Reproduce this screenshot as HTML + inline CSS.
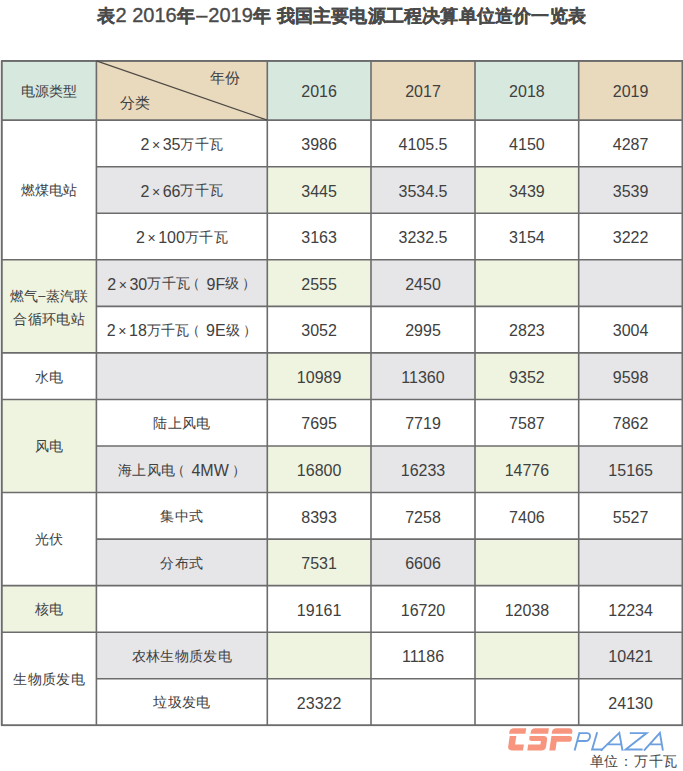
<!DOCTYPE html>
<html><head><meta charset="utf-8">
<style>
html,body{margin:0;padding:0;background:#fff;width:683px;height:771px;overflow:hidden;position:relative;}
body{font-family:"Liberation Sans",sans-serif;color:#404040;}
.t{position:absolute;width:300px;height:30px;line-height:30px;text-align:center;font-size:16px;white-space:nowrap;}
.c{font-size:14.4px;position:relative;top:-1.4px;letter-spacing:0.3px;}
.x{margin:0 2.6px;font-size:14px;}
.lp{margin-right:2px;position:relative;left:-4px;}
.rp{margin-left:2.8px;}
.d{position:relative;top:-2.5px;font-size:13px;}
.t2{position:absolute;font-size:14.6px;line-height:20px;white-space:nowrap;}
.title{position:absolute;left:97px;top:1.8px;font-size:20px;font-weight:normal;color:#4a4a4a;line-height:26px;white-space:nowrap;-webkit-text-stroke:0.35px #4a4a4a;}
.title b{font-size:18.3px;letter-spacing:0.5px;font-weight:bold;-webkit-text-stroke:0.25px #4a4a4a;}
.td{margin:0 1px;}
.tb{margin-left:5.4px;letter-spacing:0.19px !important;}
svg{position:absolute;left:0;top:0;}
.unit{position:absolute;left:589.5px;top:750px;font-size:14.4px;letter-spacing:0.75px;line-height:22px;color:#444;white-space:nowrap;}
</style></head><body>
<div class="title"><b>表</b>2 2016<b>年</b><span class="td">–</span>2019<b>年</b><b class="tb">我国主要电源工程决算单位造价一览表</b></div>
<svg width="683" height="771" viewBox="0 0 683 771">
<rect x="1.70" y="60.90" width="94.70" height="59.25" fill="#d7e8de"/><rect x="96.40" y="60.90" width="170.90" height="59.25" fill="#e9d9bd"/><rect x="267.30" y="60.90" width="103.70" height="59.25" fill="#d7e8de"/><rect x="371.00" y="60.90" width="104.00" height="59.25" fill="#e9d9bd"/><rect x="475.00" y="60.90" width="103.70" height="59.25" fill="#d7e8de"/><rect x="578.70" y="60.90" width="103.80" height="59.25" fill="#e9d9bd"/><rect x="96.40" y="120.15" width="170.90" height="46.55" fill="#ffffff"/><rect x="267.30" y="120.15" width="103.70" height="46.55" fill="#ffffff"/><rect x="371.00" y="120.15" width="104.00" height="46.55" fill="#ffffff"/><rect x="475.00" y="120.15" width="103.70" height="46.55" fill="#ffffff"/><rect x="578.70" y="120.15" width="103.80" height="46.55" fill="#ffffff"/><rect x="96.40" y="166.70" width="170.90" height="46.55" fill="#e6e5e8"/><rect x="267.30" y="166.70" width="103.70" height="46.55" fill="#eef4e0"/><rect x="371.00" y="166.70" width="104.00" height="46.55" fill="#e6e5e8"/><rect x="475.00" y="166.70" width="103.70" height="46.55" fill="#eef4e0"/><rect x="578.70" y="166.70" width="103.80" height="46.55" fill="#e6e5e8"/><rect x="96.40" y="213.25" width="170.90" height="46.55" fill="#ffffff"/><rect x="267.30" y="213.25" width="103.70" height="46.55" fill="#ffffff"/><rect x="371.00" y="213.25" width="104.00" height="46.55" fill="#ffffff"/><rect x="475.00" y="213.25" width="103.70" height="46.55" fill="#ffffff"/><rect x="578.70" y="213.25" width="103.80" height="46.55" fill="#ffffff"/><rect x="96.40" y="259.80" width="170.90" height="46.55" fill="#e6e5e8"/><rect x="267.30" y="259.80" width="103.70" height="46.55" fill="#eef4e0"/><rect x="371.00" y="259.80" width="104.00" height="46.55" fill="#e6e5e8"/><rect x="475.00" y="259.80" width="103.70" height="46.55" fill="#eef4e0"/><rect x="578.70" y="259.80" width="103.80" height="46.55" fill="#e6e5e8"/><rect x="96.40" y="306.35" width="170.90" height="46.55" fill="#ffffff"/><rect x="267.30" y="306.35" width="103.70" height="46.55" fill="#ffffff"/><rect x="371.00" y="306.35" width="104.00" height="46.55" fill="#ffffff"/><rect x="475.00" y="306.35" width="103.70" height="46.55" fill="#ffffff"/><rect x="578.70" y="306.35" width="103.80" height="46.55" fill="#ffffff"/><rect x="96.40" y="352.90" width="170.90" height="46.55" fill="#e6e5e8"/><rect x="267.30" y="352.90" width="103.70" height="46.55" fill="#eef4e0"/><rect x="371.00" y="352.90" width="104.00" height="46.55" fill="#e6e5e8"/><rect x="475.00" y="352.90" width="103.70" height="46.55" fill="#eef4e0"/><rect x="578.70" y="352.90" width="103.80" height="46.55" fill="#e6e5e8"/><rect x="96.40" y="399.45" width="170.90" height="46.55" fill="#ffffff"/><rect x="267.30" y="399.45" width="103.70" height="46.55" fill="#ffffff"/><rect x="371.00" y="399.45" width="104.00" height="46.55" fill="#ffffff"/><rect x="475.00" y="399.45" width="103.70" height="46.55" fill="#ffffff"/><rect x="578.70" y="399.45" width="103.80" height="46.55" fill="#ffffff"/><rect x="96.40" y="446.00" width="170.90" height="46.55" fill="#e6e5e8"/><rect x="267.30" y="446.00" width="103.70" height="46.55" fill="#eef4e0"/><rect x="371.00" y="446.00" width="104.00" height="46.55" fill="#e6e5e8"/><rect x="475.00" y="446.00" width="103.70" height="46.55" fill="#eef4e0"/><rect x="578.70" y="446.00" width="103.80" height="46.55" fill="#e6e5e8"/><rect x="96.40" y="492.55" width="170.90" height="46.55" fill="#ffffff"/><rect x="267.30" y="492.55" width="103.70" height="46.55" fill="#ffffff"/><rect x="371.00" y="492.55" width="104.00" height="46.55" fill="#ffffff"/><rect x="475.00" y="492.55" width="103.70" height="46.55" fill="#ffffff"/><rect x="578.70" y="492.55" width="103.80" height="46.55" fill="#ffffff"/><rect x="96.40" y="539.10" width="170.90" height="46.55" fill="#e6e5e8"/><rect x="267.30" y="539.10" width="103.70" height="46.55" fill="#eef4e0"/><rect x="371.00" y="539.10" width="104.00" height="46.55" fill="#e6e5e8"/><rect x="475.00" y="539.10" width="103.70" height="46.55" fill="#eef4e0"/><rect x="578.70" y="539.10" width="103.80" height="46.55" fill="#e6e5e8"/><rect x="96.40" y="585.65" width="170.90" height="46.55" fill="#ffffff"/><rect x="267.30" y="585.65" width="103.70" height="46.55" fill="#ffffff"/><rect x="371.00" y="585.65" width="104.00" height="46.55" fill="#ffffff"/><rect x="475.00" y="585.65" width="103.70" height="46.55" fill="#ffffff"/><rect x="578.70" y="585.65" width="103.80" height="46.55" fill="#ffffff"/><rect x="96.40" y="632.20" width="170.90" height="46.55" fill="#e6e5e8"/><rect x="267.30" y="632.20" width="103.70" height="46.55" fill="#eef4e0"/><rect x="371.00" y="632.20" width="104.00" height="46.55" fill="#ffffff"/><rect x="475.00" y="632.20" width="103.70" height="46.55" fill="#eef4e0"/><rect x="578.70" y="632.20" width="103.80" height="46.55" fill="#e6e5e8"/><rect x="96.40" y="678.75" width="170.90" height="46.55" fill="#ffffff"/><rect x="267.30" y="678.75" width="103.70" height="46.55" fill="#ffffff"/><rect x="371.00" y="678.75" width="104.00" height="46.55" fill="#ffffff"/><rect x="475.00" y="678.75" width="103.70" height="46.55" fill="#ffffff"/><rect x="578.70" y="678.75" width="103.80" height="46.55" fill="#ffffff"/><rect x="1.70" y="120.15" width="94.70" height="139.65" fill="#ffffff"/><rect x="1.70" y="259.80" width="94.70" height="93.10" fill="#eef4e0"/><rect x="1.70" y="352.90" width="94.70" height="46.55" fill="#ffffff"/><rect x="1.70" y="399.45" width="94.70" height="93.10" fill="#eef4e0"/><rect x="1.70" y="492.55" width="94.70" height="93.10" fill="#ffffff"/><rect x="1.70" y="585.65" width="94.70" height="46.55" fill="#eef4e0"/><rect x="1.70" y="632.20" width="94.70" height="93.10" fill="#ffffff"/>
<g stroke="#6c6c6c" stroke-width="1.6" fill="none">
<line x1="1.7" y1="60.9" x2="1.7" y2="725.3"/><line x1="96.4" y1="60.9" x2="96.4" y2="725.3"/><line x1="267.3" y1="60.9" x2="267.3" y2="725.3"/><line x1="371.0" y1="60.9" x2="371.0" y2="725.3"/><line x1="475.0" y1="60.9" x2="475.0" y2="725.3"/><line x1="578.7" y1="60.9" x2="578.7" y2="725.3"/><line x1="682.5" y1="60.9" x2="682.5" y2="725.3"/><line x1="1.7" y1="60.9" x2="682.5" y2="60.9"/><line x1="1.7" y1="120.15" x2="682.5" y2="120.15"/><line x1="96.4" y1="166.7" x2="682.5" y2="166.7"/><line x1="96.4" y1="213.25" x2="682.5" y2="213.25"/><line x1="1.7" y1="259.79999999999995" x2="682.5" y2="259.79999999999995"/><line x1="96.4" y1="306.35" x2="682.5" y2="306.35"/><line x1="1.7" y1="352.9" x2="682.5" y2="352.9"/><line x1="1.7" y1="399.44999999999993" x2="682.5" y2="399.44999999999993"/><line x1="96.4" y1="446.0" x2="682.5" y2="446.0"/><line x1="1.7" y1="492.54999999999995" x2="682.5" y2="492.54999999999995"/><line x1="96.4" y1="539.1" x2="682.5" y2="539.1"/><line x1="1.7" y1="585.65" x2="682.5" y2="585.65"/><line x1="1.7" y1="632.1999999999999" x2="682.5" y2="632.1999999999999"/><line x1="96.4" y1="678.7499999999999" x2="682.5" y2="678.7499999999999"/><line x1="1.7" y1="725.3" x2="682.5" y2="725.3"/><rect x="1.7" y="60.9" width="680.8" height="664.4"/><line x1="96.4" y1="60.9" x2="267.3" y2="120.15" stroke-width="1.15" stroke="#4e4b45"/>
</g>
</svg>
<div class="t" style="left:-100.9px;top:77.2px"><span class="c">电源类型</span></div><div class="t" style="left:169.1px;top:77.2px">2016</div><div class="t" style="left:273.0px;top:77.2px">2017</div><div class="t" style="left:376.9px;top:77.2px">2018</div><div class="t" style="left:480.6px;top:77.2px">2019</div><div class="t2" style="left:209.5px;top:68.2px">年份</div><div class="t2" style="left:119.6px;top:92.8px">分类</div><div class="t" style="left:31.9px;top:130.1px">2<span class="x">×</span>35<span class="c">万千瓦</span></div><div class="t" style="left:169.1px;top:130.1px">3986</div><div class="t" style="left:273.0px;top:130.1px">4105.5</div><div class="t" style="left:376.9px;top:130.1px">4150</div><div class="t" style="left:480.6px;top:130.1px">4287</div><div class="t" style="left:31.9px;top:176.7px">2<span class="x">×</span>66<span class="c">万千瓦</span></div><div class="t" style="left:169.1px;top:176.7px">3445</div><div class="t" style="left:273.0px;top:176.7px">3534.5</div><div class="t" style="left:376.9px;top:176.7px">3439</div><div class="t" style="left:480.6px;top:176.7px">3539</div><div class="t" style="left:31.9px;top:223.2px">2<span class="x">×</span>100<span class="c">万千瓦</span></div><div class="t" style="left:169.1px;top:223.2px">3163</div><div class="t" style="left:273.0px;top:223.2px">3232.5</div><div class="t" style="left:376.9px;top:223.2px">3154</div><div class="t" style="left:480.6px;top:223.2px">3222</div><div class="t" style="left:31.9px;top:269.8px">2<span class="x">×</span>30<span class="c">万千瓦<span class="lp">（</span></span>9F<span class="c">级<span class="rp">）</span></span></div><div class="t" style="left:169.1px;top:269.8px">2555</div><div class="t" style="left:273.0px;top:269.8px">2450</div><div class="t" style="left:31.9px;top:316.3px">2<span class="x">×</span>18<span class="c">万千瓦<span class="lp">（</span></span>9E<span class="c">级<span class="rp">）</span></span></div><div class="t" style="left:169.1px;top:316.3px">3052</div><div class="t" style="left:273.0px;top:316.3px">2995</div><div class="t" style="left:376.9px;top:316.3px">2823</div><div class="t" style="left:480.6px;top:316.3px">3004</div><div class="t" style="left:169.1px;top:362.9px">10989</div><div class="t" style="left:273.0px;top:362.9px">11360</div><div class="t" style="left:376.9px;top:362.9px">9352</div><div class="t" style="left:480.6px;top:362.9px">9598</div><div class="t" style="left:31.9px;top:409.4px"><span class="c">陆上风电</span></div><div class="t" style="left:169.1px;top:409.4px">7695</div><div class="t" style="left:273.0px;top:409.4px">7719</div><div class="t" style="left:376.9px;top:409.4px">7587</div><div class="t" style="left:480.6px;top:409.4px">7862</div><div class="t" style="left:31.9px;top:456.0px"><span class="c">海上风电<span class="lp">（</span></span>4MW<span class="c"><span class="rp">）</span></span></div><div class="t" style="left:169.1px;top:456.0px">16800</div><div class="t" style="left:273.0px;top:456.0px">16233</div><div class="t" style="left:376.9px;top:456.0px">14776</div><div class="t" style="left:480.6px;top:456.0px">15165</div><div class="t" style="left:31.9px;top:502.5px"><span class="c">集中式</span></div><div class="t" style="left:169.1px;top:502.5px">8393</div><div class="t" style="left:273.0px;top:502.5px">7258</div><div class="t" style="left:376.9px;top:502.5px">7406</div><div class="t" style="left:480.6px;top:502.5px">5527</div><div class="t" style="left:31.9px;top:549.1px"><span class="c">分布式</span></div><div class="t" style="left:169.1px;top:549.1px">7531</div><div class="t" style="left:273.0px;top:549.1px">6606</div><div class="t" style="left:169.1px;top:595.6px">19161</div><div class="t" style="left:273.0px;top:595.6px">16720</div><div class="t" style="left:376.9px;top:595.6px">12038</div><div class="t" style="left:480.6px;top:595.6px">12234</div><div class="t" style="left:31.9px;top:642.2px"><span class="c">农林生物质发电</span></div><div class="t" style="left:273.0px;top:642.2px">11186</div><div class="t" style="left:480.6px;top:642.2px">10421</div><div class="t" style="left:31.9px;top:688.7px"><span class="c">垃圾发电</span></div><div class="t" style="left:169.1px;top:688.7px">23322</div><div class="t" style="left:480.6px;top:688.7px">24130</div><div class="t" style="left:-100.9px;top:176.7px"><span class="c">燃煤电站</span></div><div class="t" style="left:-100.9px;top:282.3px"><span class="c">燃气</span><span class="d">–</span><span class="c">蒸汽联</span></div><div class="t" style="left:-100.9px;top:305.3px"><span class="c">合循环电站</span></div><div class="t" style="left:-100.9px;top:362.9px"><span class="c">水电</span></div><div class="t" style="left:-100.9px;top:432.7px"><span class="c">风电</span></div><div class="t" style="left:-100.9px;top:525.8px"><span class="c">光伏</span></div><div class="t" style="left:-100.9px;top:595.6px"><span class="c">核电</span></div><div class="t" style="left:-100.9px;top:665.5px"><span class="c">生物质发电</span></div>
<svg width="683" height="771" viewBox="0 0 683 771">
<g fill="#f7957f" transform="translate(0,750.4) skewX(-8.5) translate(0,-750.4)">
<path d="M506.6,733.7 V731.7 Q506.6,728.2 510.6,728.2 H522.9 V733.7 Z"/>
<path d="M507.6,736.1 H514.2 V744.6 H523 V750.4 H511.8 Q507.6,750.4 507.6,746.4 Z"/>
<path d="M528,733.7 V731.7 Q528,728.2 532,728.2 H545.6 V733.7 Z"/>
<path d="M527.5,736.1 H541.5 Q545.5,736.1 545.5,740.1 V746.4 Q545.5,750.4 541.5,750.4 H527.3 V744.4 H539.5 V740.9 H530.3 Q527.5,740.9 527.5,738.3 Z"/>
<path d="M549.2,733.7 V731.7 Q549.2,728.2 553.2,728.2 H565.7 Q569.6,728.2 569.6,732 V733.7 Z"/>
<path d="M549.3,750.4 V736.1 H567.2 Q570.2,736.1 570.2,738.9 Q570.2,741.8 567.2,741.8 H555.4 V750.4 Z"/>
</g>
<g fill="none" stroke="#6c9fdf" stroke-width="1.9" stroke-linejoin="miter" stroke-linecap="butt">
<path d="M579.6,732.3 L574.6,750.4 M578.9,733.1 H587.3 C591.6,733.1 590.6,741 585.5,741 H576.6"/>
<path d="M597.2,732.3 L592.1,749.5 H602.8"/>
<path d="M600.8,750.6 L619.3,732.9 L622.5,750.6 M606.5,744.4 H621.4"/>
<path d="M629.8,733.1 H646.6 L625.6,749.5 H642.6"/>
<path d="M643.9,750.6 L659.9,732.9 L662.9,750.6 M650.3,744.4 H661.9"/>
</g>
</svg>
<div class="unit">单位：万千瓦</div>
</body></html>
